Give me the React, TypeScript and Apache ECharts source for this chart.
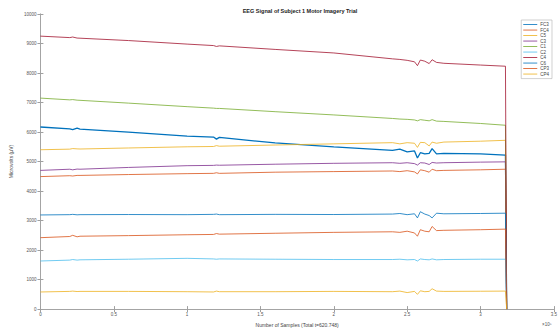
import React, { useEffect, useRef } from "react";
import * as echarts from "echarts";

const sampleX = [0, 20000, 22000, 25000, 27000, 60000, 100000, 118000, 120000, 122000, 160000, 200000, 240000, 245000, 250000, 255000, 257000, 259000, 262000, 265000, 267000, 270000, 275000, 300000, 317000, 317823];

const seriesNames = ["FC3", "FC4", "C5", "C3", "C1", "C2", "C4", "C6", "CP3", "CP4"];
const seriesColors = ["#0072BD", "#D95319", "#EDB120", "#7E2F8E", "#77AC30", "#4DBEEE", "#A2142F", "#0072BD", "#D95319", "#EDB120"];

const FC3 = [6170, 6110, 6080, 6130, 6100, 6000, 5860, 5830, 5760, 5820, 5630, 5500, 5380, 5420, 5330, 5360, 5120, 5300, 5260, 5280, 5440, 5260, 5280, 5260, 5220, 0];
const FC4 = [4490, 4520, 4510, 4530, 4530, 4560, 4590, 4600, 4620, 4600, 4640, 4660, 4680, 4660, 4690, 4650, 4580, 4720, 4690, 4640, 4740, 4690, 4700, 4720, 4740, 0];
const C5 = [5400, 5420, 5440, 5430, 5425, 5460, 5500, 5510, 5540, 5520, 5560, 5600, 5640, 5600, 5640, 5620, 5480, 5650, 5640, 5530, 5660, 5620, 5660, 5690, 5720, 0];
const C3 = [4700, 4740, 4720, 4745, 4740, 4800, 4860, 4870, 4880, 4875, 4910, 4940, 4960, 4940, 4960, 4930, 4880, 4960, 4950, 4900, 4970, 4950, 4960, 4980, 4990, 0];
const C1 = [7150, 7090, 7100, 7080, 7075, 6980, 6860, 6810, 6800, 6800, 6690, 6580, 6460, 6440, 6430, 6410, 6380, 6420, 6400, 6380, 6420, 6370, 6360, 6290, 6230, 0];
const C2 = [1630, 1660, 1680, 1660, 1670, 1690, 1720, 1700, 1690, 1700, 1690, 1680, 1680, 1690, 1670, 1680, 1630, 1700, 1680, 1670, 1700, 1670, 1680, 1690, 1690, 0];
const C4 = [9250, 9200, 9220, 9185, 9180, 9100, 8980, 8930, 8900, 8920, 8800, 8680, 8480, 8460, 8430, 8380, 8250, 8440, 8400, 8320, 8450, 8360, 8330, 8270, 8230, 0];
const C6 = [3190, 3200, 3210, 3195, 3200, 3205, 3200, 3210, 3220, 3200, 3210, 3205, 3220, 3240, 3200, 3230, 3090, 3300, 3220, 3170, 3090, 3250, 3230, 3240, 3250, 0];
const CP3 = [2420, 2460, 2500, 2450, 2470, 2490, 2520, 2530, 2560, 2540, 2570, 2600, 2620, 2600, 2640, 2580, 2470, 2690, 2640, 2620, 2800, 2660, 2670, 2690, 2710, 0];
const CP4 = [580, 600, 610, 595, 600, 600, 590, 580, 610, 590, 590, 600, 590, 610, 560, 600, 500, 620, 590, 600, 690, 610, 600, 605, 610, 0];

const seriesValues = [FC3, FC4, C5, C3, C1, C2, C4, C6, CP3, CP4];

const titleText = "EEG Signal of Subject 1 Motor Imagery Trial";
const xAxisName = "Number of Samples (Total t=620.748)";
const yAxisName = "Microvolts (μV)";

export default function App() {
  const ref = useRef<HTMLDivElement>(null);
  useEffect(() => {
    if (!ref.current) return;
    const chart = echarts.init(ref.current, null, { renderer: "svg" });
    const axisColor = "#a0a0a0";
    const labelColor = "#555";
    const font = "Liberation Sans, Arial, sans-serif";
    const series = seriesNames.map((name, i) => ({
      name,
      type: "line",
      data: sampleX.map((x, j) => [x, seriesValues[i][j]]),
      showSymbol: false,
      symbol: "none",
      lineStyle: { width: i === 0 ? 1.3 : 0.8, color: seriesColors[i] },
      itemStyle: { color: seriesColors[i] },
      xAxisIndex: 0,
      yAxisIndex: 0,
      z: 2 + i,
    }));
    chart.setOption({
      animation: false,
      backgroundColor: "#fff",
      title: {
        text: titleText,
        left: 295,
        textAlign: "center",
        top: 3,
        textStyle: { fontSize: 5.5, fontWeight: "bold", color: "#222", fontFamily: font },
      },
      legend: {
        orient: "vertical",
        right: 8,
        top: 20,
        backgroundColor: "#fff",
        borderColor: "#b0b0b0",
        borderWidth: 0.6,
        padding: [2, 3, 2, 2],
        itemWidth: 14,
        itemHeight: 0.8,
        itemGap: 0.4,
        icon: "rect",
        textStyle: { fontSize: 4.5, lineHeight: 5.1, color: "#444", fontFamily: font, padding: [0, 0, 0, -2] },
        data: seriesNames,
      },
      grid: { left: 35, right: 4, top: 14, bottom: 17, containLabel: false },
      xAxis: [
        {
          type: "value",
          min: 0,
          max: 350000,
          interval: 50000,
          axisLine: { lineStyle: { color: axisColor, width: 0.8 } },
          axisTick: { inside: true, length: 3, lineStyle: { color: axisColor } },
          axisLabel: {
            fontSize: 4.5,
            color: labelColor,
            margin: 3,
            fontFamily: font,
            formatter: (v: number) => String(v / 100000),
          },
          splitLine: { show: false },
          name: xAxisName,
          nameLocation: "middle",
          nameGap: 10,
          nameTextStyle: { fontSize: 5, color: "#444", fontFamily: font },
        },
        {
          type: "value",
          position: "top",
          min: 0,
          max: 350000,
          interval: 50000,
          axisLine: { show: true, lineStyle: { color: axisColor, width: 0.8 } },
          axisTick: { inside: true, length: 3, lineStyle: { color: axisColor } },
          axisLabel: { show: false },
          splitLine: { show: false },
        },
      ],
      yAxis: [
        {
          type: "value",
          min: 0,
          max: 10000,
          interval: 1000,
          axisLine: { show: true, lineStyle: { color: axisColor, width: 0.8 } },
          axisTick: { show: true, inside: true, length: 3, lineStyle: { color: axisColor } },
          axisLabel: { fontSize: 4.5, color: labelColor, margin: 4, fontFamily: font, formatter: (v: number) => String(v) },
          splitLine: { show: false },
          name: yAxisName,
          nameLocation: "middle",
          nameGap: 21,
          nameRotate: 90,
          nameTextStyle: { fontSize: 5, color: "#444", fontFamily: font },
        },
        {
          type: "value",
          position: "right",
          min: 0,
          max: 10000,
          interval: 1000,
          axisLine: { show: true, lineStyle: { color: axisColor, width: 0.8 } },
          axisTick: { show: true, inside: true, length: 3, lineStyle: { color: axisColor } },
          axisLabel: { show: false },
          splitLine: { show: false },
        },
      ],
      graphic: [
        {
          type: "text",
          left: 542,
          top: 322,
          style: { text: "×10⁵", fontSize: 4.5, fill: labelColor, fontFamily: font },
        },
      ],
      series,
    });
    return () => chart.dispose();
  }, []);
  return <div ref={ref} style={{ width: 560, height: 332, position: "absolute", left: 0, top: 0 }} />;
}
